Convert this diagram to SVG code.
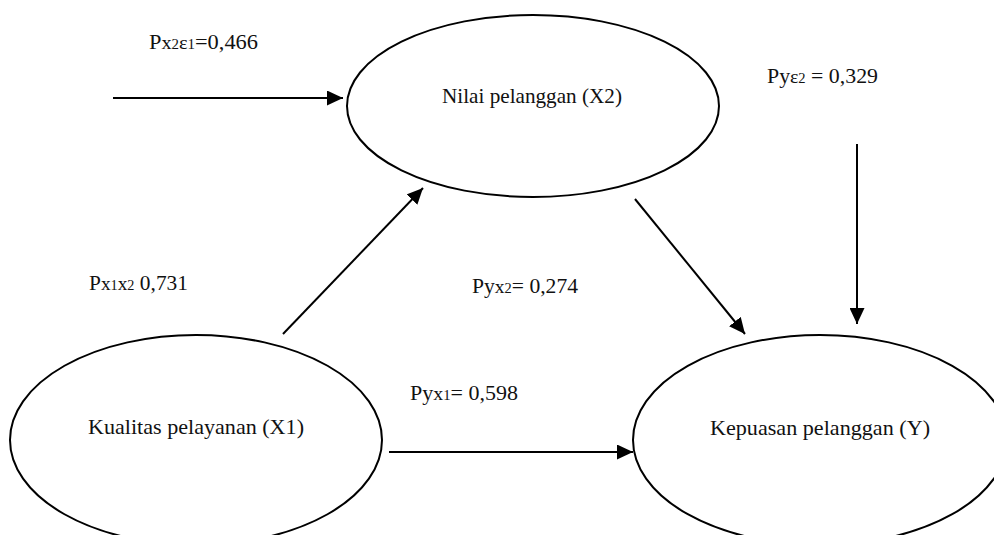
<svg xmlns="http://www.w3.org/2000/svg" width="994" height="535" viewBox="0 0 994 535">
<style>
.node ellipse{fill:#fff;stroke:#000;stroke-width:2}
text{font-family:"Liberation Serif","Times New Roman",serif;font-size:21px;fill:#111}
.lbl{text-anchor:middle}
.sub{font-size:14px}
.sm{font-size:19px}
#connectors line{stroke:#000;stroke-width:2;fill:none}
</style>
<defs>
<marker id="ah" markerUnits="userSpaceOnUse" markerWidth="17" markerHeight="15" refX="16" refY="7.5" orient="auto">
<path d="M0,0 L16,7.5 L0,15 Z" fill="#000"/>
</marker>
</defs>
<rect width="994" height="535" fill="#fff"/>
<g id="node-x2" class="node">
<ellipse cx="533" cy="106" rx="186" ry="91"/>
<text class="lbl" x="532" y="103" textLength="180" lengthAdjust="spacingAndGlyphs">Nilai pelanggan (X2)</text>
</g>
<g id="node-x1" class="node">
<ellipse cx="196" cy="440" rx="186" ry="105"/>
<text class="lbl" x="196" y="434" textLength="216" lengthAdjust="spacingAndGlyphs">Kualitas pelayanan (X1)</text>
</g>
<g id="node-y" class="node">
<ellipse cx="820" cy="440" rx="187" ry="105"/>
<text class="lbl" x="820" y="435" textLength="220" lengthAdjust="spacingAndGlyphs">Kepuasan pelanggan (Y)</text>
</g>
<g id="connectors">
<line x1="113" y1="98" x2="343" y2="98" marker-end="url(#ah)"/>
<line x1="857" y1="144" x2="857" y2="324" marker-end="url(#ah)"/>
<line x1="283" y1="334" x2="423" y2="188" marker-end="url(#ah)"/>
<line x1="635" y1="199" x2="745" y2="334" marker-end="url(#ah)"/>
<line x1="389" y1="452" x2="633" y2="452" marker-end="url(#ah)"/>
</g>
<g id="labels">
<text x="149" y="49" textLength="109" lengthAdjust="spacingAndGlyphs">P<tspan class="sm">x</tspan><tspan class="sub">2</tspan><tspan class="sm">ε</tspan><tspan class="sub">1</tspan>=0,466</text>
<text x="767" y="83" textLength="111" lengthAdjust="spacingAndGlyphs">Py<tspan class="sm">ε</tspan><tspan class="sub">2</tspan> = 0,329</text>
<text x="89" y="290" textLength="99" lengthAdjust="spacingAndGlyphs">P<tspan class="sm">x</tspan><tspan class="sub">1</tspan><tspan class="sm">x</tspan><tspan class="sub">2</tspan> 0,731</text>
<text x="472" y="293" textLength="106" lengthAdjust="spacingAndGlyphs">Py<tspan class="sm">x</tspan><tspan class="sub">2</tspan>= 0,274</text>
<text x="410" y="400" textLength="108" lengthAdjust="spacingAndGlyphs">Py<tspan class="sm">x</tspan><tspan class="sub">1</tspan>= 0,598</text>
</g>
</svg>
